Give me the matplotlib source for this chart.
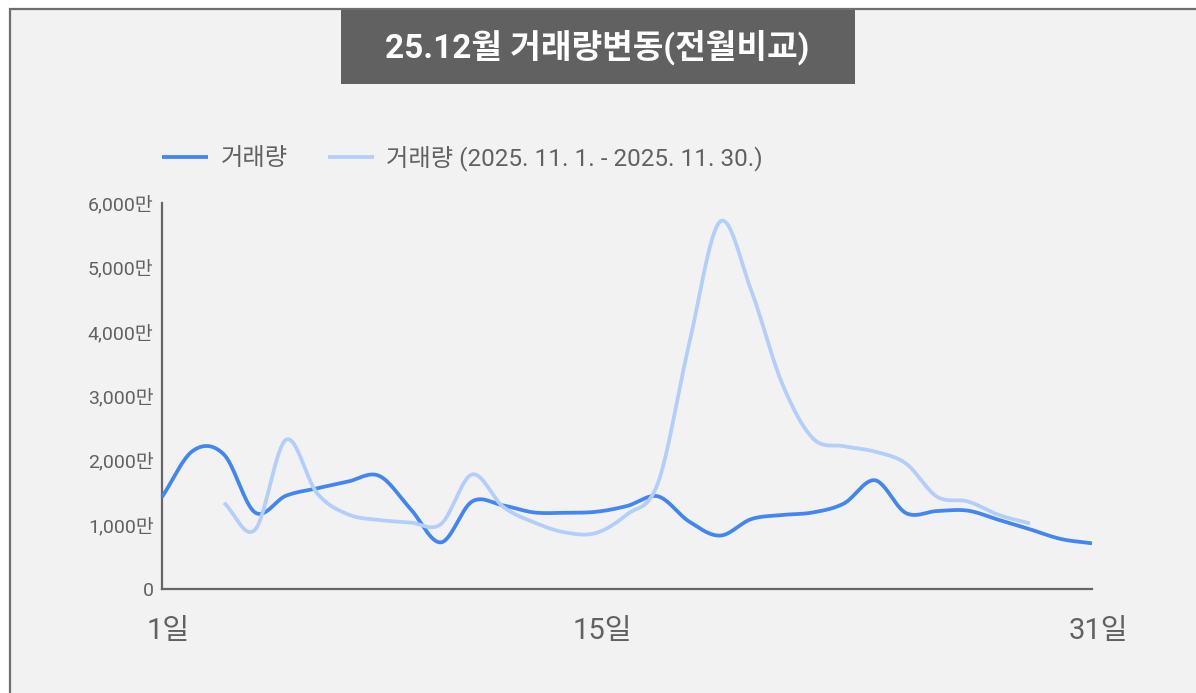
import matplotlib.pyplot as plt
import numpy as np
from matplotlib.patches import Rectangle
from matplotlib.transforms import ScaledTranslation

plt.rcParams['font.family'] = ['Roboto', 'Noto Sans CJK KR', 'DejaVu Sans']

# 12월 거래량 (단위: 만)
dec_days = np.arange(1, 32)
dec_volume = [1430, 2150, 2090, 1190, 1450, 1565, 1670, 1760, 1255, 725,
              1360, 1300, 1190, 1185, 1200, 1290, 1440, 1050, 830, 1085,
              1150, 1190, 1330, 1690, 1180, 1212, 1218, 1073, 928, 777, 710]

# 11월 거래량 (비교 기간), 3일 ~ 29일만 표시됨
nov_days = np.arange(3, 30)
nov_volume = [1340, 920, 2320, 1490, 1160, 1073, 1036, 1010, 1780, 1280,
              1036, 880, 870, 1160, 1650, 3800, 5710, 4650, 3200, 2340,
              2220, 2135, 1950, 1435, 1360, 1150, 1020]

y_ticks = [0, 1000, 2000, 3000, 4000, 5000, 6000]
x_ticks = [1, 15, 31]
x_labels = ["1일", "15일", "31일"]
title = "25.12월 거래량변동(전월비교)"
labels = ["거래량", "거래량 (2025. 11. 1. - 2025. 11. 30.)"]


def smooth(x, y, n=30):
    # cardinal (Catmull-Rom) spline through the points
    x = np.asarray(x, float)
    y = np.asarray(y, float)
    h = np.diff(x)
    t = np.zeros_like(y)
    t[1:-1] = (y[2:] - y[:-2]) / (x[2:] - x[:-2])
    t[0] = (y[1] - y[0]) / h[0]
    t[-1] = (y[-1] - y[-2]) / h[-1]
    xs, ys = [], []
    u = np.linspace(0, 1, n, endpoint=False)
    h00 = 2 * u**3 - 3 * u**2 + 1
    h10 = u**3 - 2 * u**2 + u
    h01 = -2 * u**3 + 3 * u**2
    h11 = u**3 - u**2
    for i in range(len(y) - 1):
        xs.append(x[i] + u * h[i])
        ys.append(h00 * y[i] + h10 * h[i] * t[i] + h01 * y[i + 1] + h11 * h[i] * t[i + 1])
    xs.append([x[-1]])
    ys.append([y[-1]])
    return np.concatenate(xs), np.concatenate(ys)


W, H = 1196, 693
fig = plt.figure(figsize=(W / 100, H / 100), dpi=100)
fig.patch.set_facecolor("white")

# card background with border on top and left
fig.patches.append(Rectangle((10 / W, -0.02), 1.1, 1.02 - 9 / H, transform=fig.transFigure,
                             facecolor="#f2f2f2", edgecolor="#6e6e6e", lw=1.6, zorder=-5))

# title box
fig.patches.append(Rectangle((341 / W, 1 - 84 / H), (855 - 341) / W, (84 - 10) / H,
                             transform=fig.transFigure, facecolor="#616161",
                             edgecolor="none", zorder=-4))
fig.text(597 / W, 1 - 47 / H, title, color="white", fontsize=24, fontweight="bold",
         ha="center", va="center")

ax = fig.add_axes([162 / W, 1 - 589 / H, (1092 - 162) / W, (589 - 203) / H])
ax.set_facecolor("none")

dx, dy = smooth(dec_days, dec_volume)
nx, ny = smooth(nov_days, nov_volume)
ax.plot(dx, dy, color="#4285f4", lw=2.7, label=labels[0], clip_on=False, zorder=3,
        solid_capstyle="butt")
ax.plot(nx, ny, color="#b3cefb", lw=2.7, label=labels[1], clip_on=False, zorder=4,
        solid_capstyle="butt")

ax.set_xlim(1, 31)
ax.set_ylim(0, 6000)
for side in ["top", "right"]:
    ax.spines[side].set_visible(False)
for side in ["left", "bottom"]:
    ax.spines[side].set_color("#666666")
    ax.spines[side].set_linewidth(1.6)

ax.set_yticks(y_ticks)
ax.set_yticklabels(["0" if v == 0 else f"{v:,}만" for v in y_ticks])
ax.set_xticks(x_ticks)
ax.set_xticklabels(x_labels)
ax.tick_params(axis="y", length=0, pad=6, labelsize=14, labelcolor="#616161")
ax.tick_params(axis="x", length=0, pad=20, labelsize=21, labelcolor="#616161")
for lab in ax.get_xticklabels():
    lab.set_transform(lab.get_transform() + ScaledTranslation(0.06, 0, fig.dpi_scale_trans))

ax.legend(loc="center left", bbox_to_anchor=(162 / W, 1 - 158 / H),
          bbox_transform=fig.transFigure, ncol=2, frameon=False, fontsize=17.5,
          handlelength=1.9, handletextpad=0.5, columnspacing=1.65,
          borderpad=0, borderaxespad=0, labelcolor="#616161")

fig.savefig("out.png", dpi=100)
